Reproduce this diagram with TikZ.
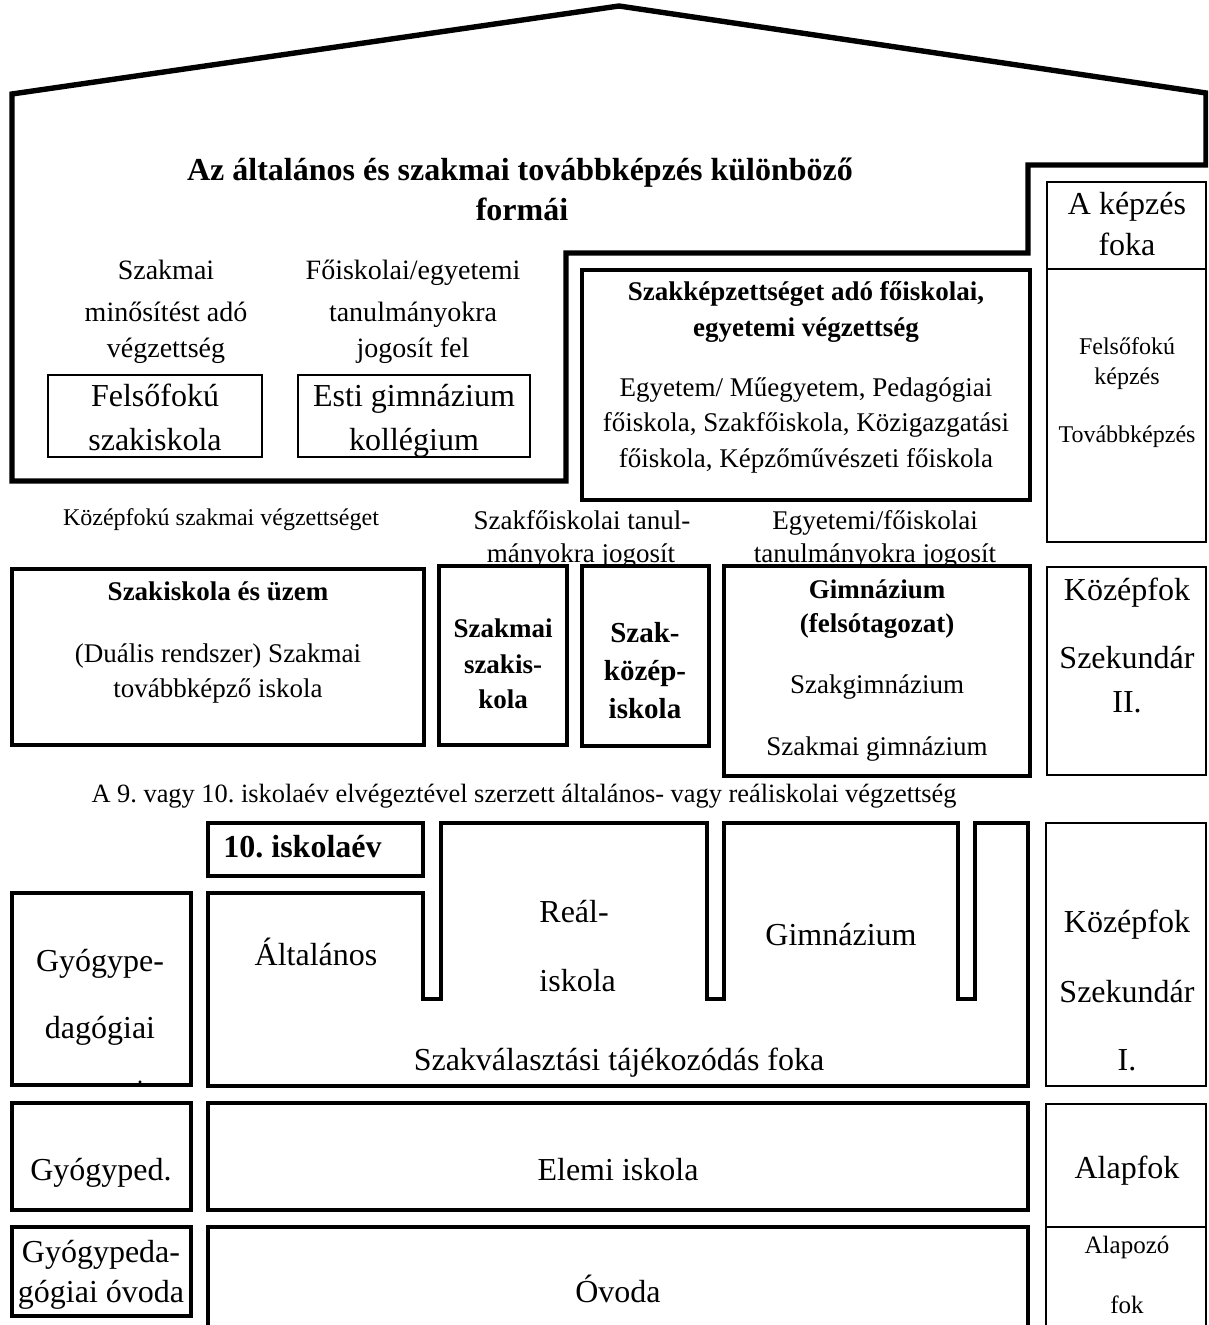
\documentclass[tikz,border=0pt]{standalone}
\usepackage{fontspec}
\setmainfont{Liberation Serif}
\frenchspacing
\begin{document}
\begin{tikzpicture}[x=0.5pt,y=-0.5pt,
  every node/.style={inner sep=0pt,anchor=base},
  fbig/.style={font=\fontsize{16}{19}\selectfont},
  fbigb/.style={font=\fontsize{16}{19}\selectfont\bfseries},
  fup/.style={font=\fontsize{14}{17}\selectfont},
  fmed/.style={font=\fontsize{13.5}{16}\selectfont},
  fmedb/.style={font=\fontsize{13.5}{16}\selectfont\bfseries},
  fszb/.style={font=\fontsize{14.5}{17}\selectfont\bfseries},
  fsml/.style={font=\fontsize{12}{14}\selectfont},
  fnine/.style={font=\fontsize{13.2}{16}\selectfont},
  falap/.style={font=\fontsize{12.5}{15}\selectfont},
  thickbox/.style={draw=black,line width=2.3pt},
  roofline/.style={draw=black,line width=2.7pt},
  thinbox/.style={draw=black,line width=1pt},
  innerbox/.style={draw=black,line width=0.8pt}]
\useasboundingbox (0,0) rectangle (1208,1325);
\clip (0,0) rectangle (1208,1325);
\fill[white] (0,0) rectangle (1208,1325);

% ---------- texts between boxes (partly covered by box lines) ----------
\node[fsml] (k1) at (221,525) {Középfokú szakmai végzettséget};
\node[fmed] (sf1) at (582,529) {Szakfőiskolai tanul-};
\node[fmed] (sf2) at (581,562) {mányokra jogosít};
\node[fmed] (ef1) at (875,529) {Egyetemi/főiskolai};
\node[fmed] (ef2) at (875,562) {tanulmányokra jogosít};
\node[fnine] (a9) at (524,802) {A 9. vagy 10. iskolaév elvégeztével szerzett általános- vagy reáliskolai végzettség};

% ---------- upper part ----------
\node[fbigb] (ti1) at (520,181) {Az általános és szakmai továbbképzés különböző};
\node[fbigb] (ti2) at (522,221) {formái};
\node[fup] (sz1) at (166,280) {Szakmai};
\node[fup] (sz2) at (166,322) {minősítést adó};
\node[fup] (sz3) at (166,358) {végzettség};
\node[fup] (fo1) at (413,280) {Főiskolai/egyetemi};
\node[fup] (fo2) at (413,322) {tanulmányokra};
\node[fup] (fo3) at (413,358) {jogosít fel};
\node[fbig] (fs1) at (155,407) {Felsőfokú};
\node[fbig] (fs2) at (155,451) {szakiskola};
\node[fbig] (eg1) at (414,407) {Esti gimnázium};
\node[fbig] (eg2) at (414,451) {kollégium};
\node[fmedb] (se1) at (806,301) {Szakképzettséget adó főiskolai,};
\node[fmedb] (se2) at (806,337) {egyetemi végzettség};
\node[fmed] (se3) at (806,397) {Egyetem/ Műegyetem, Pedagógiai};
\node[fmed] (se4) at (806,432) {főiskola, Szakfőiskola, Közigazgatási};
\node[fmed] (se5) at (806,468) {főiskola, Képzőművészeti főiskola};
\node[fbig] (ak1) at (1127,215) {A képzés};
\node[fbig] (ak2) at (1127,256) {foka};
\node[fsml] (ff1) at (1127,355) {Felsőfokú};
\node[fsml] (ff2) at (1127,385) {képzés};
\node[fsml] (ff3) at (1127,443) {Továbbképzés};

% ---------- middle part ----------
\node[fmedb] (su1) at (218,600) {Szakiskola és üzem};
\node[fmed] (su2) at (218,662) {(Duális rendszer) Szakmai};
\node[fmed] (su3) at (218,697) {továbbképző iskola};
\node[fmedb] (ss1) at (503,637) {Szakmai};
\node[fmedb] (ss2) at (503,673) {szakis-};
\node[fmedb] (ss3) at (503,708) {kola};
\node[fszb] (sk1) at (645,642) {Szak-};
\node[fszb] (sk2) at (645,680) {közép-};
\node[fszb] (sk3) at (645,718) {iskola};
\node[fmedb] (gi1) at (877,598) {Gimnázium};
\node[fmedb] (gi2) at (877,632) {(felsótagozat)};
\node[fmed] (gi3) at (877,693) {Szakgimnázium};
\node[fmed] (gi4) at (877,755) {Szakmai gimnázium};
\node[fbig] (kz1) at (1127,600) {Középfok};
\node[fbig] (kz2) at (1127,668) {Szekundár};
\node[fbig] (kz3) at (1127,712) {II.};

% ---------- lower part ----------
\node[fbigb,anchor=base west] (ti10) at (223,857) {10. iskolaév};
\node[fbig] (al) at (316,965) {Általános};
\node[fbig,anchor=base west] (re1) at (539,922) {Reál-};
\node[fbig,anchor=base west] (re2) at (539,991) {iskola};
\node[fbig] (gm) at (841,945) {Gimnázium};
\node[fbig] (szv) at (619,1070) {Szakválasztási tájékozódás foka};
\node[fbig] (gy1) at (100,971) {Gyógype-};
\node[fbig] (gy2) at (100,1038) {dagógiai};
\node[fsml] (gy3) at (140,1083) {.};
\node[fbig] (ki1) at (1127,932) {Középfok};
\node[fbig] (ki2) at (1127,1002) {Szekundár};
\node[fbig] (ki3) at (1127,1070) {I.};
\node[fbig] (gp) at (101,1180) {Gyógyped.};
\node[fbig] (el) at (618,1180) {Elemi iskola};
\node[fbig] (ap) at (1127,1178) {Alapfok};
\node[fbig] (go1) at (101,1262) {Gyógypeda-};
\node[fbig] (go2) at (101,1302) {gógiai óvoda};
\node[fbig] (ov) at (618,1302) {Óvoda};
\node[falap] (az1) at (1127,1253) {Alapozó};
\node[falap] (az2) at (1127,1313) {fok};

% ---------- outlines ----------
% house outline
\draw[roofline] (12,481) -- (12,94) -- (619,6) -- (1206,93) -- (1206,165)
  -- (1028,165) -- (1028,253) -- (566,253) -- (566,481) -- cycle;
\draw[innerbox] (48,375) rectangle (262,457);
\draw[innerbox] (298,375) rectangle (530,457);
\draw[thickbox] (582,270) rectangle (1030,500);
% right column
\draw[thinbox] (1047,182) rectangle (1206,542);
\draw[thinbox] (1047,269) -- (1206,269);
\draw[thinbox] (1047,567) rectangle (1206,775);
\draw[thinbox] (1046,823) rectangle (1206,1086);
\draw[thinbox] (1046,1104) rectangle (1206,1345);
\draw[thinbox] (1046,1227) -- (1206,1227);
% middle boxes
\draw[thickbox] (12,569) rectangle (424,745);
\draw[thickbox] (439,566) rectangle (567,745);
\draw[thickbox] (582,566) rectangle (709,746);
\draw[thickbox] (724,566) rectangle (1030,776);
% lower boxes
\draw[thickbox] (208,823) rectangle (423,876);
\draw[thickbox] (208,1086) -- (208,893) -- (423,893) -- (423,999) -- (441,999)
  -- (441,823) -- (707,823) -- (707,999) -- (724,999) -- (724,823)
  -- (958,823) -- (958,999) -- (975,999) -- (975,823) -- (1028,823)
  -- (1028,1086) -- cycle;
\draw[thickbox] (12,893) rectangle (191,1085);
\draw[thickbox] (12,1103) rectangle (191,1210);
\draw[thickbox] (208,1103) rectangle (1028,1210);
\draw[thickbox] (12,1227) rectangle (191,1316);
\draw[thickbox] (208,1345) -- (208,1227) -- (1028,1227) -- (1028,1345);
\end{tikzpicture}
\end{document}
